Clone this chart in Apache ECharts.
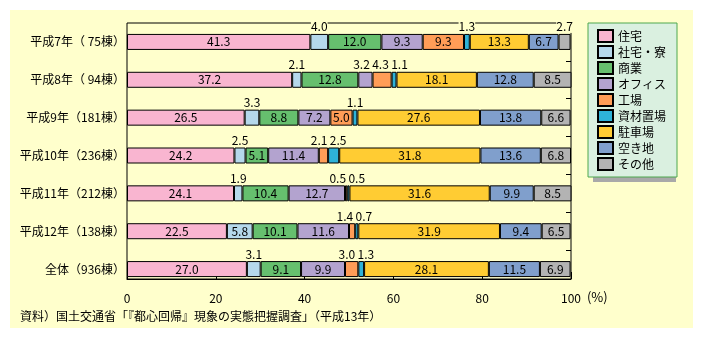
<!DOCTYPE html>
<html>
<head>
<meta charset="utf-8">
<script src="https://cdn.jsdelivr.net/npm/echarts@6/dist/echarts.min.js"></script>
<style>
  html, body { margin: 0; padding: 0; background: #ffffff; }
  #panel { position: absolute; left: 10px; top: 10px; width: 683px; height: 318px; background: #FFFFCC; }
  #chart { position: absolute; left: 0; top: 0; width: 703px; height: 339px; }
</style>
</head>
<body>
<div id="panel"></div>
<div id="chart"></div>
<script>
// Building counts by year and the use of each site (%)
const categories = ['平成7年（ 75棟）', '平成8年（ 94棟）', '平成9年（181棟）', '平成10年（236棟）',
                    '平成11年（212棟）', '平成12年（138棟）', '全体（936棟）'];
const seriesNames = ['住宅', '社宅・寮', '商業', 'オフィス', '工場', '資材置場', '駐車場', '空き地', 'その他'];

const housing        = [41.3, 37.2, 26.5, 24.2, 24.1, 22.5, 27.0];
const companyHousing = [4.0, 2.1, 3.3, 2.5, 1.9, 5.8, 3.1];
const commercial     = [12.0, 12.8, 8.8, 5.1, 10.4, 10.1, 9.1];
const office         = [9.3, 3.2, 7.2, 11.4, 12.7, 11.6, 9.9];
const factory        = [9.3, 4.3, 5.0, 2.1, 0.5, 1.4, 3.0];
const materialYard   = [1.3, 1.1, 1.1, 2.5, 0.5, 0.7, 1.3];
const parking        = [13.3, 18.1, 27.6, 31.8, 31.6, 31.9, 28.1];
const vacantLot      = [6.7, 12.8, 13.8, 13.6, 9.9, 9.4, 11.5];
const other          = [2.7, 8.5, 6.6, 6.8, 8.5, 6.5, 6.9];

const sourceNote = '資料）国土交通省「『都心回帰』現象の実態把握調査」（平成13年）';

const seriesValues = [housing, companyHousing, commercial, office, factory,
                      materialYard, parking, vacantLot, other];
const colors = ['#F9B5D0', '#B5D8EB', '#66BF6E', '#B3A3CF', '#FF9D57',
                '#2EB2D8', '#FFCC33', '#809FCC', '#B3B3B3'];

const FONT = '"Noto Sans CJK JP", "Noto Sans", sans-serif';
const CHART_W = 703, GRID_LEFT = 127, GRID_RIGHT = 132;
const INSIDE_MIN = 5;          // narrower segments get their value above the bar
const LABEL_SPAN = 19;         // px kept between neighbouring labels above a bar

// Spread apart the labels that sit above the bar so they do not overprint
const pxPerUnit = (CHART_W - GRID_LEFT - GRID_RIGHT) / 100;
const shifts = seriesValues.map(() => categories.map(() => 0));
categories.forEach((_, row) => {
  let cum = 0;
  const items = [];
  seriesValues.forEach((vals, s) => {
    const v = vals[row];
    if (v < INSIDE_MIN) {
      const c = (cum + v / 2) * pxPerUnit;
      items.push({ s, orig: c, pos: c });
    }
    cum += v;
  });
  for (let k = 0; k < 40; k++) {
    for (let i = 1; i < items.length; i++) {
      const gap = items[i].pos - items[i - 1].pos;
      if (gap < LABEL_SPAN) {
        const d = (LABEL_SPAN - gap) / 2;
        items[i - 1].pos -= d;
        items[i].pos += d;
      }
    }
  }
  items.forEach(it => { shifts[it.s][row] = it.pos - it.orig; });
});

const series = seriesNames.map((name, s) => ({
  name,
  type: 'bar',
  stack: 'share',
  xAxisIndex: 0,
  yAxisIndex: 0,
  barWidth: 16,
  itemStyle: { color: colors[s], borderColor: '#000', borderWidth: 1 },
  emphasis: { disabled: true },
  label: {
    show: true,
    color: '#000',
    fontSize: 12,
    fontFamily: FONT,
    formatter: p => Number(p.value).toFixed(1)
  },
  data: seriesValues[s].map((v, row) => ({
    value: v,
    label: v >= INSIDE_MIN
      ? { position: 'inside' }
      : { position: 'top', distance: 1, offset: [shifts[s][row], 0],
          backgroundColor: '#FFFFCC' }
  }))
}));

const chart = echarts.init(document.getElementById('chart'), null, { renderer: 'canvas' });
chart.setOption({
  backgroundColor: 'transparent',
  animation: false,
  textStyle: { fontFamily: FONT, color: '#000' },
  title: {
    text: sourceNote,
    left: 20, top: 310, padding: 0,
    textStyle: { fontSize: 12, fontWeight: 'normal', color: '#000', fontFamily: FONT }
  },
  // drop shadow behind the legend box
  graphic: {
    elements: [{
      type: 'rect', left: 593, top: 28, z: 2, silent: true,
      shape: { width: 83, height: 154 },
      style: { fill: '#A9A9A9' }
    }]
  },
  legend: {
    data: seriesNames,
    orient: 'vertical',
    left: 588, top: 23, z: 5,
    icon: 'rect',
    itemWidth: 15, itemHeight: 12, itemGap: 2,
    padding: [6, 11, 6, 9],
    backgroundColor: '#DAF0E0',
    borderColor: '#4FA84F',
    borderWidth: 1,
    selectedMode: false,
    textStyle: { fontSize: 12, color: '#000', fontFamily: FONT }
  },
  grid: [
    // bands for the bars
    { left: GRID_LEFT, right: GRID_RIGHT, top: 23, bottom: 51 },
    // plot frame and percentage axis
    { left: GRID_LEFT, right: GRID_RIGHT, top: 23, bottom: 60,
      show: true, borderColor: '#000', borderWidth: 1, backgroundColor: 'transparent' }
  ],
  xAxis: [
    { gridIndex: 0, type: 'value', min: 0, max: 100, show: false },
    { gridIndex: 1, type: 'value', min: 0, max: 100, interval: 20,
      axisLine: { show: true, lineStyle: { color: '#000', width: 1 } },
      axisTick: { show: true, inside: true, length: 7, lineStyle: { color: '#000' } },
      splitLine: { show: false },
      axisLabel: { color: '#000', fontSize: 12, margin: 13, fontFamily: FONT },
      name: '(%)', nameLocation: 'end', nameGap: 8,
      nameTextStyle: { color: '#000', fontSize: 13, fontFamily: FONT,
                       verticalAlign: 'top', padding: [12, 0, 0, 0] } }
  ],
  yAxis: [
    { gridIndex: 0, type: 'category', inverse: true, data: categories,
      axisLine: { show: false }, axisTick: { show: false },
      axisLabel: { color: '#000', fontSize: 12, margin: 2, fontFamily: FONT } },
    { gridIndex: 0, type: 'value', inverse: true, min: 0, max: categories.length,
      axisLine: { show: false }, splitLine: { show: false },
      axisLabel: { show: false },
      axisTick: { show: true, inside: true, length: 5, lineStyle: { color: '#000' },
                  customValues: categories.slice(1).map((_, i) => i + 1) } },
    { gridIndex: 1, type: 'value', show: false }
  ],
  series
});
</script>
</body>
</html>
